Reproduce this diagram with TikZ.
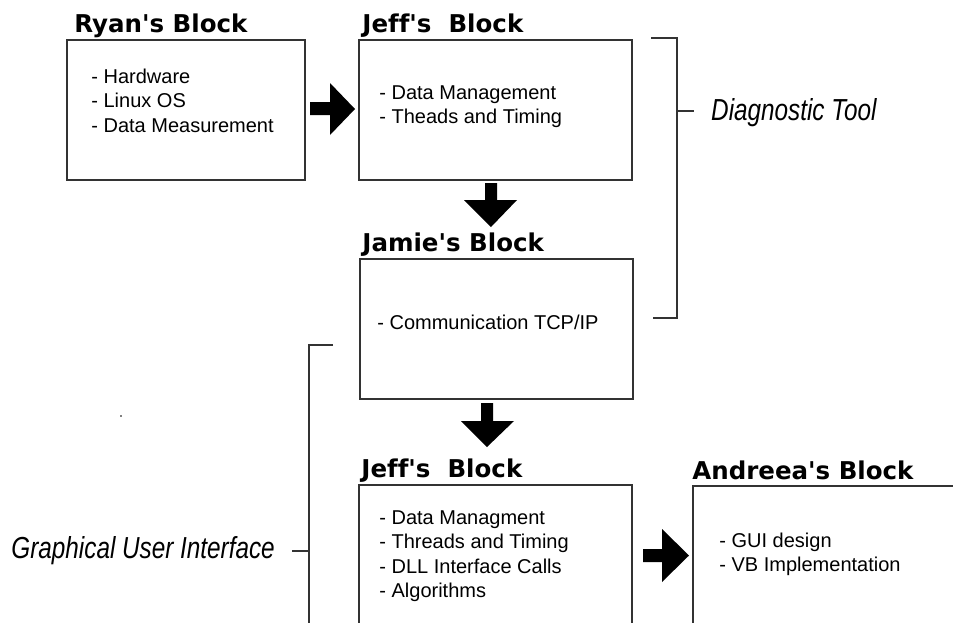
\documentclass[tikz,border=0pt]{standalone}
\usepackage{fontspec}
\setmainfont{Liberation Sans}
\newfontfamily\headfont{DejaVu Sans}[Ligatures=NoCommon]
\usetikzlibrary{positioning}

\begin{document}
\begin{tikzpicture}[x=1pt,y=-1pt,
 block/.style={draw=black!80,line width=1.6pt,minimum height=140pt,inner sep=0pt},
 head/.style={anchor=base west,inner sep=0pt,font=\headfont\bfseries\fontsize{24.5}{28}\selectfont},
 items/.style={anchor=base west,inner sep=0pt,align=left,font=\fontsize{20}{24.5}\selectfont},
 tag/.style={anchor=base west,inner sep=0pt,font=\itshape\fontsize{24.3}{28}\selectfont},
 bracket/.style={draw=black!80,line width=1.6pt},
 fatarrow/.style={fill=black}]
 \useasboundingbox (0,0) rectangle (953,622);
 \clip (0,0) rectangle (953,622);

 % the five blocks
 \node[block,minimum width=238pt] (ryan) at (186,110) {};
 \node[block,minimum width=273pt] (jeffa) at (495.5,110) {};
 \node[block,minimum width=273pt] (jamie) at (496.5,329) {};
 \node[block,minimum width=273pt,minimum height=160pt] (jeffb) at (495.5,565) {};
 \node[block,minimum width=307pt,minimum height=160pt] (andreea) at (846.5,566) {};

 % block titles
 \node[head,shift={(8,-7)}] (ryant) at (ryan.north west) {Ryan\textquotesingle s Block};
 \node[head,shift={(4,-7)}] (jeffat) at (jeffa.north west) {Jeff\textquotesingle s\ \ Block};
 \node[head,shift={(3,-7)}] (jamiet) at (jamie.north west) {Jamie\textquotesingle s Block};
 \node[head,shift={(3,-7)}] (jeffbt) at (jeffb.north west) {Jeff\textquotesingle s\ \ Block};
 \node[head,shift={(0,-6)}] (andreeat) at (andreea.north west) {Andreea\textquotesingle s Block};

 % what each block does (base = last line)
 \node[items,shift={(25,93)}] (ryanl) at (ryan.north west) {- Hardware\\- Linux OS\\- Data Measurement};
 \node[items,shift={(21,84.5)}] (jeffal) at (jeffa.north west) {- Data Management\\- Theads and Timing};
 \node[items,shift={(18,71)}] (jamiel) at (jamie.north west) {- Communication TCP/IP};
 \node[items,shift={(21,113.5)}] (jeffbl) at (jeffb.north west) {- Data Managment\\- Threads and Timing\\- DLL Interface Calls\\- Algorithms};
 \node[items,shift={(27,86.5)}] (andreeal) at (andreea.north west) {- GUI design\\- VB Implementation};

 % fat arrows between blocks
 \fill[fatarrow] (310,102) -- (330,102) -- (330,83) -- (355,109) -- (330,135) -- (330,115) -- (310,115) -- cycle;
 \fill[fatarrow] (485,183) -- (497,183) -- (497,200) -- (517,200) -- (491,227) -- (464,200) -- (485,200) -- cycle;
 \fill[fatarrow] (481,403) -- (493,403) -- (493,421) -- (514,421) -- (487,447) -- (461,421) -- (481,421) -- cycle;
 \fill[fatarrow] (643,549) -- (662,549) -- (662,529) -- (689,555.5) -- (662,582) -- (662,562) -- (643,562) -- cycle;

 % brackets with their labels
 \coordinate (dtop) at (651,38);
 \coordinate (dbot) at (653,318);
 \coordinate (dmid) at (677,111);
 \draw[bracket] (dtop) -| (dbot -| dmid) -- (dbot);
 \draw[bracket] (dmid) -- ++(17,0);
 \node[tag] (diag) at (711,120) {\scalebox{1}[1.25]{Diagnostic Tool}};

 \coordinate (gtop) at (333,345);
 \coordinate (gmid) at (309,551);
 \draw[bracket] (gtop) -| (309,640);
 \draw[bracket] (gmid) -- ++(-17,0);
 \node[tag,anchor=base east] (gui) at (275,558) {\scalebox{1}[1.25]{Graphical User Interface}};

 % stray dot
 \fill (121,416) circle (0.8);
\end{tikzpicture}
\end{document}
